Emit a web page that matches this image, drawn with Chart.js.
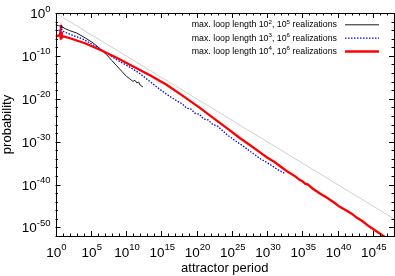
<!DOCTYPE html>
<html>
<head>
<meta charset="utf-8">
<title>attractor period distribution</title>
<script src="https://cdn.jsdelivr.net/npm/chart.js@4/dist/chart.umd.min.js"></script>
<style>
  html, body { margin: 0; padding: 0; background: #fff; }
  #wrap { width: 395px; height: 276px; position: relative; }
</style>
</head>
<body>
<div id="wrap"><canvas id="chart"></canvas></div>
<script>
// 数据：横轴为吸引子周期 log10，纵轴为概率 log10
const len2LogPeriod = [0, 0.4, 0.7, 0.8, 0.85, 0.9, 0.95, 1.0, 1.5, 2.0, 3.0, 4.18, 5.31, 6.3, 7.25, 8.0, 8.67, 9.4, 10.08, 10.5, 10.98, 11.26, 11.54, 11.8, 12.0, 12.39];
const len2LogProb = [-2.73, -2.95, -3.05, -2.85, -3.6, -2.95, -3.45, -3.3, -3.75, -4.1, -4.67, -5.77, -6.96, -8.3, -9.74, -11.1, -12.3, -13.6, -14.8, -15.3, -15.95, -15.7, -16.3, -16.1, -16.8, -17.25];

const len3LogPeriod = [0, 0.5, 0.7, 0.78, 0.85, 0.92, 1.0, 2.05, 3.9, 5.0, 6.3, 7.5, 8.67, 10.3, 11.97, 13.4, 14.8, 16.0, 17.2, 18.0, 18.6, 19.2, 19.8, 20.4, 21.0, 21.6, 22.3, 23.0, 24.25, 25.5, 26.5, 27.55, 28.97, 30.5, 31.5, 32.5];
const len3LogProb = [-4.0, -4.1, -3.4, -5.0, -3.5, -4.6, -4.25, -4.95, -6.1, -7.1, -8.35, -9.6, -10.9, -12.4, -14.1, -16.0, -17.8, -19.2, -20.5, -21.2, -22.2, -22.4, -23.4, -23.6, -24.7, -24.9, -26.0, -26.4, -28.3, -29.8, -30.9, -32.2, -33.9, -35.4, -36.5, -37.4];

const len4LogPeriod = [0, 0.3, 0.6, 0.7, 0.75, 0.8, 0.85, 0.9, 1.0, 1.3, 2.05, 4.18, 6.3, 8.67, 11.02, 13.39, 15.75, 18.06, 20.47, 22.3, 24.25, 26.13, 27.55, 29.0, 30.0, 31.0, 32.0, 33.0, 34.0, 34.6, 35.0, 35.4, 35.8, 36.5, 37.5, 38.5, 39.5, 40.3, 41.0, 42.0, 42.7, 43.5, 44.5, 46.7];
const len4LogProb = [-5.2, -5.3, -5.25, -4.4, -6.2, -4.6, -6.0, -5.0, -5.5, -5.5, -5.89, -7.06, -8.57, -10.44, -12.48, -14.53, -16.75, -19.32, -22.13, -24.4, -26.8, -29.14, -30.77, -32.5, -33.7, -34.7, -35.9, -37.1, -38.1, -38.9, -39.2, -39.8, -40.0, -41.0, -42.1, -43.1, -44.2, -45.2, -45.8, -46.8, -47.7, -48.5, -49.8, -52.2];

// 参考线 1/x
const refLogPeriod = [0, 48];
const refLogProb = [0, -48];

// 图例文字（^{..} 表示上标）
const legendLabels = [
  'max. loop length 10^{2}, 10^{5} realizations',
  'max. loop length 10^{3}, 10^{6} realizations',
  'max. loop length 10^{4}, 10^{6} realizations'
];

// 刻度（log10）
const xMajorExps = [0, 5, 10, 15, 20, 25, 30, 35, 40, 45];
const yMajorExps = [0, -10, -20, -30, -40, -50];
const xTickLabels = xMajorExps.map((e) => '10^{' + e + '}');
const yTickLabels = yMajorExps.map((e) => '10^{' + e + '}');

const FONT = '"Liberation Sans", Arial, Helvetica, sans-serif';

function toPoints(logX, logY) {
  return logX.map((e, i) => ({ x: Math.pow(10, e), y: Math.pow(10, logY[i]) }));
}

// 解析上标文本
function richParts(str) {
  const parts = [];
  const re = /\^\{([^}]*)\}/g;
  let last = 0;
  let m;
  while ((m = re.exec(str))) {
    if (m.index > last) parts.push({ t: str.slice(last, m.index), sup: false });
    parts.push({ t: m[1], sup: true });
    last = re.lastIndex;
  }
  if (last < str.length) parts.push({ t: str.slice(last), sup: false });
  return parts;
}

function drawRich(ctx, str, x, y, align, size, supSize, raise) {
  const parts = richParts(str);
  let w = 0;
  parts.forEach((p) => {
    ctx.font = (p.sup ? supSize : size) + 'px ' + FONT;
    p.w = ctx.measureText(p.t).width;
    w += p.w;
  });
  let cx = align === 'right' ? x - w : align === 'center' ? x - w / 2 : x;
  ctx.textAlign = 'left';
  ctx.textBaseline = 'alphabetic';
  parts.forEach((p) => {
    ctx.font = (p.sup ? supSize : size) + 'px ' + FONT;
    ctx.fillText(p.t, cx, p.sup ? y - raise : y);
    cx += p.w;
  });
}

// 边框、朝内刻度、刻度标签
const frameAndTicks = {
  id: 'frameAndTicks',
  afterDatasetsDraw(chart) {
    const { ctx, chartArea: a, scales } = chart;
    const sx = scales.x;
    const sy = scales.y;
    ctx.save();
    ctx.strokeStyle = '#000';
    ctx.lineWidth = 1;
    ctx.beginPath();
    for (let e = 0; e <= 48; e++) {
      const px = Math.round(sx.getPixelForValue(Math.pow(10, e))) + 0.5;
      const len = e % 5 === 0 ? 5 : 2.5;
      ctx.moveTo(px, a.bottom);
      ctx.lineTo(px, a.bottom - len);
      ctx.moveTo(px, a.top);
      ctx.lineTo(px, a.top + len);
    }
    for (let e = 0; e >= -52; e -= 2) {
      const py = Math.round(sy.getPixelForValue(Math.pow(10, e))) + 0.5;
      const len = e % 10 === 0 ? 5 : 2.5;
      ctx.moveTo(a.left, py);
      ctx.lineTo(a.left + len, py);
      ctx.moveTo(a.right, py);
      ctx.lineTo(a.right - len, py);
    }
    ctx.stroke();
    ctx.strokeRect(Math.round(a.left) + 0.5, Math.round(a.top) + 0.5,
      Math.round(a.right - a.left) - 1, Math.round(a.bottom - a.top));

    ctx.fillStyle = '#000';
    xMajorExps.forEach((e, i) => {
      const px = sx.getPixelForValue(Math.pow(10, e));
      drawRich(ctx, xTickLabels[i], px + 1, a.bottom + 20.5, 'center', 13.5, 9.5, 6.5);
    });
    yMajorExps.forEach((e, i) => {
      const py = sy.getPixelForValue(Math.pow(10, e));
      drawRich(ctx, yTickLabels[i], a.left - 5, py + 5, 'right', 13.5, 9.5, 6.5);
    });
    ctx.restore();
  }
};

// 右上角图例：文字在左，线样在右
const sideLegend = {
  id: 'sideLegend',
  afterDatasetsDraw(chart) {
    const { ctx } = chart;
    const rows = [24.3, 37.7, 51];
    const dsIndex = [1, 2, 3];
    ctx.save();
    ctx.fillStyle = '#000';
    rows.forEach((ry, i) => {
      const ds = chart.data.datasets[dsIndex[i]];
      drawRich(ctx, legendLabels[i], 337, ry + 3, 'right', 8.8, 6.2, 3.6);
      ctx.beginPath();
      ctx.strokeStyle = ds.borderColor;
      ctx.lineWidth = ds.borderWidth;
      ctx.setLineDash(ds.borderDash || []);
      ctx.moveTo(345, ry + 0.5);
      ctx.lineTo(379, ry + 0.5);
      ctx.stroke();
    });
    ctx.restore();
  }
};

const lineBase = { pointRadius: 0, tension: 0, fill: false };

new Chart(document.getElementById('chart'), {
  type: 'line',
  data: {
    datasets: [
      Object.assign({ label: '1/x', data: toPoints(refLogPeriod, refLogProb),
        borderColor: '#c4c4c4', borderWidth: 0.8, order: 3 }, lineBase),
      Object.assign({ label: legendLabels[0], data: toPoints(len2LogPeriod, len2LogProb),
        borderColor: '#000000', borderWidth: 0.9, order: 2 }, lineBase),
      Object.assign({ label: legendLabels[1], data: toPoints(len3LogPeriod, len3LogProb),
        borderColor: '#0000ff', borderWidth: 1.3, borderDash: [1.5, 1.5], order: 1 }, lineBase),
      Object.assign({ label: legendLabels[2], data: toPoints(len4LogPeriod, len4LogProb),
        borderColor: '#ff0000', borderWidth: 2.3, order: 0 }, lineBase)
    ]
  },
  options: {
    responsive: true,
    maintainAspectRatio: false,
    animation: false,
    devicePixelRatio: 1,
    layout: { padding: { top: 13, right: 1, left: 0, bottom: 0 } },
    plugins: { legend: { display: false }, tooltip: { enabled: false } },
    scales: {
      x: {
        type: 'logarithmic',
        min: 1,
        max: 1e48,
        afterBuildTicks: (s) => { s.ticks = xMajorExps.map((e) => ({ value: Math.pow(10, e) })); },
        ticks: { display: false },
        grid: { display: false, drawTicks: false },
        border: { display: false },
        title: { display: true, text: 'attractor period', color: '#000',
          font: { family: FONT, size: 13 }, padding: { top: 24.4, bottom: 0 } }
      },
      y: {
        type: 'logarithmic',
        min: 1e-52,
        max: 1,
        afterBuildTicks: (s) => { s.ticks = yMajorExps.map((e) => ({ value: Math.pow(10, e) })); },
        ticks: { display: false },
        grid: { display: false, drawTicks: false },
        border: { display: false },
        title: { display: true, text: 'probability', color: '#000',
          font: { family: FONT, size: 13 }, padding: { top: 0, bottom: 39.9 } }
      }
    }
  },
  plugins: [frameAndTicks, sideLegend]
});
</script>
</body>
</html>
